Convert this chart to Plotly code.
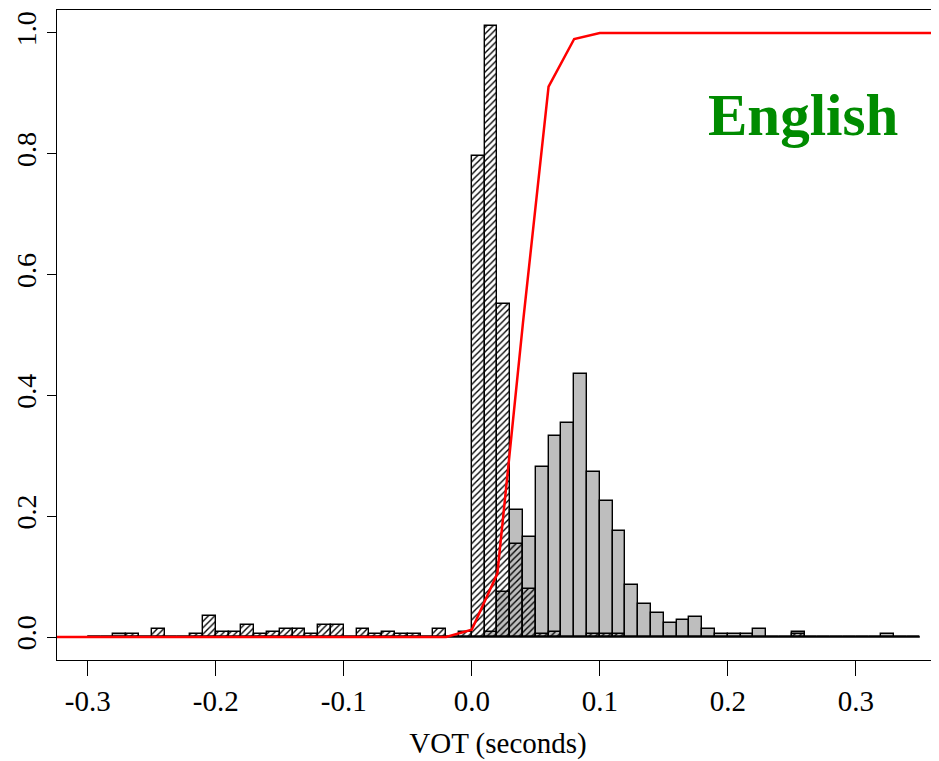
import plotly.graph_objects as go

# Histogram bins: left edges from -0.30 to 0.34, width 0.01
bin_width = 0.01
bin_left = [round(-0.30 + 0.01 * k, 2) for k in range(65)]

# Hatched histogram (short-lag / prevoiced tokens), density
hatched_density = [
    0, 0, 0, 0.0045, 0, 0.013, 0, 0, 0.0045, 0.035,          # -0.30 .. -0.21
    0.0083, 0.0083, 0.02, 0.0045, 0.0083, 0.013, 0.013, 0.0045, 0.02, 0.02,  # -0.20 .. -0.11
    0, 0.013, 0.0045, 0.0083, 0.0045, 0.0045, 0, 0.013, 0, 0.0083,  # -0.10 .. -0.01
    0.797, 1.012, 0.551, 0.154, 0.079, 0.0045, 0.009, 0, 0, 0.0045,  # 0.00 .. 0.09
    0.0045, 0.0045, 0, 0, 0, 0, 0, 0, 0, 0,                   # 0.10 .. 0.19
    0, 0, 0, 0, 0, 0.0045, 0, 0, 0, 0,                        # 0.20 .. 0.29
    0, 0, 0, 0, 0,                                            # 0.30 .. 0.34
]

# Gray histogram (long-lag tokens), density
gray_density = [
    0, 0, 0.0045, 0, 0, 0, 0, 0, 0, 0,
    0, 0, 0, 0, 0, 0, 0, 0, 0, 0,
    0, 0, 0, 0, 0, 0, 0, 0, 0, 0,
    0, 0.009, 0.075, 0.211, 0.166, 0.281, 0.333, 0.354, 0.435, 0.273,
    0.226, 0.175, 0.086, 0.054, 0.039, 0.024, 0.028, 0.034, 0.013, 0.0045,
    0.0045, 0.0045, 0.013, 0, 0, 0.009, 0, 0, 0, 0,
    0, 0, 0.0045, 0, 0,
]

# Red classification curve
curve_x = [-0.34, -0.30, -0.20, -0.10, -0.04, -0.02, 0.00, 0.02, 0.04, 0.06, 0.08, 0.10, 0.20, 0.30, 0.38]
curve_y = [0, 0, 0, 0, 0, 0, 0.012, 0.105, 0.52, 0.911, 0.99, 1.0, 1.0, 1.0, 1.0]

x_ticks = [-0.3, -0.2, -0.1, 0.0, 0.1, 0.2, 0.3]
x_ticktext = ["-0.3", "-0.2", "-0.1", "0.0", "0.1", "0.2", "0.3"]
y_ticks = [0.0, 0.2, 0.4, 0.6, 0.8, 1.0]
y_ticktext = ["0.0", "0.2", "0.4", "0.6", "0.8", "1.0"]

centers = [l + bin_width / 2 for l in bin_left]
serif = "Liberation Serif"

fig = go.Figure()

fig.add_trace(go.Bar(
    x=centers, y=gray_density, width=bin_width,
    marker=dict(color="#BEBEBE", line=dict(color="black", width=1.4)),
    showlegend=False, hoverinfo="skip",
))

fig.add_trace(go.Bar(
    x=centers, y=hatched_density, width=bin_width,
    marker=dict(
        color="rgba(0,0,0,0)",
        line=dict(color="black", width=1.4),
        pattern=dict(shape="/", fgcolor="black", bgcolor="rgba(0,0,0,0)",
                     size=4.5, solidity=0.3, fillmode="replace"),
    ),
    showlegend=False, hoverinfo="skip",
))

# baseline of the histograms (from first to last bin edge)
fig.add_trace(go.Scatter(
    x=[bin_left[0], bin_left[-1] + bin_width], y=[0, 0], mode="lines",
    line=dict(color="black", width=1.4), showlegend=False, hoverinfo="skip",
))

fig.add_trace(go.Scatter(
    x=curve_x, y=curve_y, mode="lines",
    line=dict(color="#FF0000", width=2.5), showlegend=False, hoverinfo="skip",
))

fig.add_annotation(
    x=0.2586, y=0.864, xref="x", yref="y", text="<b>English</b>",
    showarrow=False, font=dict(family=serif, size=59, color="#008B00"),
)

# The page body adds an 8px offset, so the figure is sized/margined to compensate
fig.update_layout(
    width=931, height=753,
    margin=dict(l=49, r=0, t=2, b=101),
    plot_bgcolor="white", paper_bgcolor="white",
    barmode="overlay", bargap=0,
    font=dict(family=serif, size=30, color="black"),
    xaxis=dict(
        range=[-0.324, 0.365], tickvals=x_ticks, ticktext=x_ticktext,
        ticks="outside", ticklen=15, tickcolor="black", tickwidth=1,
        showline=True, linecolor="black", linewidth=1.3, mirror=True,
        showgrid=False, zeroline=False, automargin=False,
        title=dict(text="VOT (seconds)", font=dict(family=serif, size=29), standoff=16),
        tickfont=dict(family=serif, size=29),
    ),
    yaxis=dict(
        range=[-0.038, 1.038], tickvals=y_ticks, ticktext=y_ticktext,
        ticks="outside", ticklen=9, tickcolor="black", tickwidth=1,
        tickangle=-90, automargin=False,
        showline=True, linecolor="black", linewidth=1.3, mirror=False,
        showgrid=False, zeroline=False,
        tickfont=dict(family=serif, size=28),
    ),
)

fig.write_html("out.html")
